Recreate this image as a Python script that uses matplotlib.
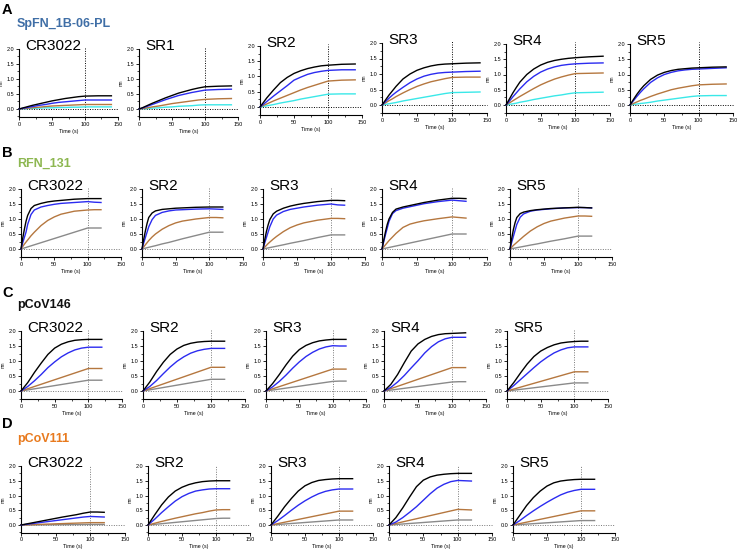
import matplotlib
matplotlib.use("Agg")
import matplotlib.pyplot as plt
from matplotlib.ticker import MultipleLocator

plt.rcParams['font.family'] = ['Liberation Sans', 'DejaVu Sans']

# ---------------- data (nm) ----------------
# Row A time grid (s)
time_A = [0, 5, 10, 15, 20, 30, 40, 50, 60, 70, 80, 90, 100, 120, 140]
A_CR3022 = [
    [0, .03, .06, .09, .12, .17, .22, .27, .31, .35, .38, .41, .43, .44, .44],
    [0, .02, .04, .06, .08, .12, .15, .19, .22, .24, .26, .28, .30, .30, .30],
    [0, .01, .02, .03, .04, .06, .08, .10, .11, .12, .13, .14, .15, .15, .15],
    [0, .01, .01, .02, .02, .03, .04, .04, .05, .05, .06, .06, .07, .07, .07],
]
A_SR1 = [
    [0, .04, .09, .14, .19, .28, .37, .45, .53, .59, .65, .70, .74, .76, .77],
    [0, .03, .07, .11, .15, .23, .31, .38, .45, .50, .55, .59, .63, .65, .66],
    [0, .01, .03, .05, .07, .10, .14, .18, .21, .24, .27, .30, .32, .34, .35],
    [0, .01, .01, .02, .03, .04, .06, .07, .09, .10, .11, .13, .14, .14, .14],
]
A_SR2 = [
    [0, .15, .30, .43, .56, .80, .97, 1.10, 1.19, 1.26, 1.31, 1.35, 1.37, 1.40, 1.41],
    [0, .09, .18, .27, .36, .53, .70, .88, .98, 1.07, 1.13, 1.17, 1.20, 1.22, 1.22],
    [0, .05, .10, .15, .20, .29, .38, .47, .56, .64, .71, .78, .85, .88, .89],
    [0, .02, .04, .06, .08, .13, .17, .21, .26, .30, .34, .38, .42, .43, .43],
]
A_SR3 = [
    [0, .16, .32, .46, .60, .84, 1.00, 1.12, 1.20, 1.26, 1.30, 1.32, 1.33, 1.35, 1.36],
    [0, .11, .22, .32, .41, .57, .72, .84, .93, .99, 1.03, 1.05, 1.06, 1.08, 1.09],
    [0, .07, .14, .20, .27, .39, .50, .60, .68, .75, .80, .85, .89, .90, .90],
    [0, .02, .04, .06, .08, .13, .17, .21, .25, .29, .33, .37, .40, .41, .42],
]
A_SR4 = [
    [0, .20, .40, .58, .75, 1.00, 1.18, 1.31, 1.40, 1.46, 1.50, 1.53, 1.55, 1.58, 1.60],
    [0, .13, .27, .40, .53, .76, .94, 1.08, 1.18, 1.25, 1.30, 1.33, 1.35, 1.37, 1.38],
    [0, .07, .14, .21, .28, .41, .54, .66, .76, .85, .92, .98, 1.03, 1.04, 1.05],
    [0, .02, .04, .06, .09, .13, .18, .22, .26, .30, .33, .37, .40, .41, .42],
]
A_SR5 = [
    [0, .18, .35, .50, .63, .84, .98, 1.07, 1.13, 1.17, 1.19, 1.21, 1.22, 1.24, 1.25],
    [0, .14, .28, .41, .53, .74, .89, 1.00, 1.07, 1.12, 1.15, 1.17, 1.18, 1.20, 1.22],
    [0, .05, .10, .15, .19, .28, .36, .43, .50, .55, .59, .63, .66, .68, .69],
    [0, .02, .03, .05, .06, .09, .13, .16, .19, .22, .25, .28, .30, .31, .31],
]

# Row B time grid (s)
time_B = [0, 2.5, 5, 7.5, 10, 15, 20, 30, 40, 50, 60, 80, 100, 110, 120]
B_CR3022 = [
    [0, .35, .65, .92, 1.12, 1.35, 1.45, 1.52, 1.57, 1.60, 1.62, 1.66, 1.68, 1.68, 1.68],
    [0, .20, .38, .56, .82, 1.15, 1.30, 1.40, 1.45, 1.49, 1.52, 1.55, 1.58, 1.56, 1.55],
    [0, .08, .16, .23, .30, .44, .56, .78, .95, 1.07, 1.16, 1.26, 1.30, 1.31, 1.31],
    [0, .018, .035, .05, .07, .105, .14, .21, .28, .35, .42, .56, .70, .70, .70],
]
B_SR2 = [
    [0, .32, .60, .85, 1.05, 1.20, 1.27, 1.32, 1.34, 1.36, 1.37, 1.39, 1.40, 1.40, 1.40],
    [0, .20, .38, .56, .74, .98, 1.12, 1.22, 1.27, 1.30, 1.31, 1.33, 1.34, 1.33, 1.32],
    [0, .07, .14, .21, .28, .40, .50, .66, .78, .87, .93, 1.00, 1.05, 1.05, 1.04],
    [0, .014, .028, .042, .056, .084, .11, .17, .22, .28, .34, .45, .56, .56, .56],
]
B_SR3 = [
    [0, .30, .58, .80, .98, 1.17, 1.26, 1.36, 1.43, 1.48, 1.52, 1.58, 1.62, 1.62, 1.61],
    [0, .20, .38, .56, .74, 1.00, 1.13, 1.25, 1.32, 1.36, 1.40, 1.46, 1.50, 1.47, 1.46],
    [0, .06, .12, .18, .23, .33, .42, .58, .71, .80, .87, .96, 1.02, 1.02, 1.01],
    [0, .012, .024, .035, .047, .07, .094, .14, .19, .235, .28, .38, .47, .47, .47],
]
B_SR4 = [
    [0, .30, .58, .82, 1.00, 1.22, 1.33, 1.40, 1.45, 1.50, 1.55, 1.63, 1.69, 1.69, 1.68],
    [0, .25, .48, .70, .92, 1.18, 1.28, 1.36, 1.41, 1.46, 1.51, 1.58, 1.63, 1.61, 1.59],
    [0, .07, .14, .21, .28, .40, .52, .72, .83, .89, .94, 1.01, 1.07, 1.05, 1.03],
    [0, .012, .025, .037, .05, .075, .10, .15, .20, .25, .30, .40, .50, .50, .50],
]
B_SR5 = [
    [0, .35, .65, .88, 1.05, 1.18, 1.23, 1.28, 1.31, 1.33, 1.35, 1.37, 1.39, 1.38, 1.37],
    [0, .22, .42, .62, .82, 1.06, 1.17, 1.26, 1.30, 1.32, 1.34, 1.37, 1.38, 1.38, 1.37],
    [0, .06, .12, .17, .22, .32, .42, .60, .74, .85, .93, 1.03, 1.10, 1.10, 1.09],
    [0, .011, .022, .032, .043, .065, .086, .13, .17, .215, .26, .34, .43, .43, .43],
]

# Rows C and D time grid (s)
time_CD = [0, 10, 20, 30, 40, 50, 60, 70, 80, 90, 100, 110, 120]
C_CR3022 = [
    [0, .28, .62, .93, 1.22, 1.43, 1.56, 1.64, 1.69, 1.71, 1.72, 1.72, 1.72],
    [0, .15, .34, .55, .78, .97, 1.14, 1.27, 1.37, 1.43, 1.46, 1.46, 1.46],
    [0, .075, .15, .225, .30, .375, .45, .525, .60, .675, .75, .75, .75],
    [0, .036, .072, .108, .144, .18, .216, .252, .288, .324, .36, .36, .36],
]
C_SR2 = [
    [0, .30, .65, .96, 1.22, 1.40, 1.52, 1.59, 1.63, 1.65, 1.66, 1.66, 1.66],
    [0, .15, .35, .58, .80, .99, 1.14, 1.26, 1.34, 1.39, 1.42, 1.42, 1.42],
    [0, .079, .158, .237, .316, .395, .474, .553, .632, .711, .79, .79, .79],
    [0, .039, .078, .117, .156, .195, .234, .273, .312, .351, .39, .39, .39],
]
C_SR3 = [
    [0, .25, .55, .87, 1.16, 1.38, 1.52, 1.61, 1.67, 1.70, 1.72, 1.72, 1.72],
    [0, .14, .32, .53, .76, .97, 1.15, 1.29, 1.40, 1.47, 1.51, 1.50, 1.50],
    [0, .073, .146, .219, .292, .365, .438, .511, .584, .657, .73, .73, .73],
    [0, .032, .064, .096, .128, .16, .192, .224, .256, .288, .32, .33, .33],
]
C_SR4 = [
    [0, .22, .55, .95, 1.33, 1.57, 1.72, 1.82, 1.88, 1.91, 1.92, 1.93, 1.94],
    [0, .12, .30, .52, .77, 1.01, 1.27, 1.48, 1.64, 1.74, 1.79, 1.79, 1.79],
    [0, .078, .156, .234, .312, .39, .468, .546, .624, .702, .78, .78, .78],
    [0, .03, .06, .09, .12, .15, .18, .21, .24, .27, .30, .31, .31],
]
C_SR5 = [
    [0, .28, .60, .90, 1.15, 1.33, 1.45, 1.54, 1.60, 1.63, 1.65, 1.66, 1.66],
    [0, .18, .38, .58, .78, .97, 1.13, 1.27, 1.37, 1.44, 1.47, 1.47, 1.47],
    [0, .064, .128, .192, .256, .32, .384, .448, .512, .576, .64, .64, .64],
    [0, .027, .054, .081, .108, .135, .162, .189, .216, .243, .27, .27, .27],
]
D_CR3022 = [
    [0, .045, .09, .135, .18, .225, .27, .31, .35, .40, .44, .44, .43],
    [0, .03, .06, .09, .12, .15, .18, .21, .24, .27, .29, .28, .27],
    [0, .008, .016, .024, .032, .04, .048, .056, .064, .072, .08, .08, .08],
    [0, .002, .004, .006, .008, .01, .012, .014, .016, .018, .02, .02, .02],
]
D_SR2 = [
    [0, .35, .68, .95, 1.15, 1.28, 1.37, 1.43, 1.47, 1.49, 1.50, 1.50, 1.50],
    [0, .20, .42, .62, .81, .96, 1.07, 1.15, 1.19, 1.22, 1.23, 1.23, 1.23],
    [0, .06, .12, .175, .23, .28, .33, .38, .42, .47, .51, .52, .52],
    [0, .022, .044, .066, .088, .11, .132, .154, .176, .198, .22, .23, .23],
]
D_SR3 = [
    [0, .30, .62, .90, 1.15, 1.33, 1.44, 1.51, 1.54, 1.56, 1.57, 1.57, 1.57],
    [0, .15, .32, .50, .67, .82, .95, 1.06, 1.14, 1.19, 1.22, 1.22, 1.22],
    [0, .047, .094, .141, .188, .235, .282, .329, .376, .423, .47, .47, .47],
    [0, .017, .034, .051, .068, .085, .102, .119, .136, .153, .17, .17, .17],
]
D_SR4 = [
    [0, .25, .58, .95, 1.30, 1.52, 1.63, 1.69, 1.72, 1.74, 1.75, 1.75, 1.75],
    [0, .10, .25, .43, .62, .84, 1.06, 1.25, 1.38, 1.47, 1.51, 1.50, 1.49],
    [0, .053, .106, .159, .212, .265, .318, .371, .424, .477, .53, .52, .51],
    [0, .017, .034, .051, .068, .085, .102, .119, .136, .153, .17, .17, .17],
]
D_SR5 = [
    [0, .33, .66, .93, 1.15, 1.32, 1.43, 1.49, 1.52, 1.54, 1.55, 1.55, 1.55],
    [0, .15, .32, .48, .63, .77, .90, 1.02, 1.11, 1.17, 1.21, 1.21, 1.21],
    [0, .048, .096, .144, .192, .24, .288, .336, .384, .432, .48, .48, .48],
    [0, .015, .03, .045, .06, .075, .09, .105, .12, .135, .15, .15, .15],
]

titles_A = ["CR3022", "SR1", "SR2", "SR3", "SR4", "SR5"]
titles_BCD = ["CR3022", "SR2", "SR3", "SR4", "SR5"]
row_labels = ["A", "B", "C", "D"]
row_names = ["SpFN_1B-06-PL", "RFN_131", "pCoV146", "pCoV111"]
row_name_colors = ["#3f6ea6", "#8db751", "#111111", "#e87a1e"]
colors_A = ["#000000", "#2b2bf0", "#b5773f", "#3ae8e8"]
colors_BCD = ["#000000", "#2b2bf0", "#b5773f", "#8a8a8a"]

# ---------------- layout (pixels) ----------------
W, H = 740, 552
fig = plt.figure(figsize=(W / 100, H / 100), dpi=100)

# (x px of t=0, x px of t=150, y px of 2.0, y px of 0.0)
geom_A = [(19, 118, 49, 109), (139, 238, 49, 109), (260, 362, 46, 107),
          (382, 487, 43, 105), (506, 610, 44, 105), (630, 733, 44, 105)]
geom_B = [(21, 121, 189, 249), (142, 243, 189, 249), (263, 365, 189, 249),
          (382, 487, 189, 249), (510, 612, 189, 249)]
geom_C = [(21, 122, 331, 391), (143, 245, 331, 391), (266, 366, 331, 391),
          (384, 486, 331, 391), (507, 608, 331, 391)]
geom_D = [(21, 125, 466, 525), (148, 250, 466, 525), (271, 373, 466, 525),
          (389, 492, 466, 525), (513, 615, 466, 525)]

YBOT = -0.27


def make_panel(g, time, series, colors, title, guide_color):
    x0, x150, y2, y0 = g
    ppu = (y0 - y2) / 2.0
    bottom_px = y0 - YBOT * ppu
    ax = fig.add_axes([x0 / W, 1 - bottom_px / H, (x150 - x0) / W, (bottom_px - y2) / H])
    ax.set_xlim(0, 150)
    ax.set_ylim(YBOT, 2.0)
    for s in ("top", "right"):
        ax.spines[s].set_visible(False)
    for s in ("left", "bottom"):
        ax.spines[s].set_linewidth(0.8)
    ax.xaxis.set_major_locator(MultipleLocator(50))
    ax.xaxis.set_minor_locator(MultipleLocator(25))
    ax.yaxis.set_minor_locator(MultipleLocator(0.25))
    ax.set_yticks([0, 0.5, 1.0, 1.5, 2.0])
    ax.set_yticklabels(["0.0", "0.5", "1.0", "1.5", "2.0"])
    ax.tick_params(which="major", length=2.2, width=0.6, labelsize=4, pad=1)
    ax.tick_params(which="minor", length=1.3, width=0.5)
    ax.set_xlabel("Time (s)", fontsize=3.8, labelpad=1.5)
    ax.set_ylabel("nm", fontsize=3.3, labelpad=2)
    ax.patch.set_alpha(0)
    # guide lines
    ax.plot([0, 150], [0, 0], ls=(0, (1, 1.5)), color=guide_color, lw=0.7, clip_on=False, zorder=1)
    ax.plot([100, 100], [YBOT, 2.05], ls=(0, (1, 1.5)), color=guide_color, lw=0.7, clip_on=False, zorder=1)
    for vals, c in zip(reversed(series), reversed(colors)):
        ax.plot(time, vals, color=c, lw=1.0, clip_on=False, zorder=3, solid_joinstyle="round")
    ax.text(9, 1.97, title, fontsize=11, ha="left", va="baseline")
    return ax


panels_A = [A_CR3022, A_SR1, A_SR2, A_SR3, A_SR4, A_SR5]
panels_B = [B_CR3022, B_SR2, B_SR3, B_SR4, B_SR5]
panels_C = [C_CR3022, C_SR2, C_SR3, C_SR4, C_SR5]
panels_D = [D_CR3022, D_SR2, D_SR3, D_SR4, D_SR5]

for g, s, t in zip(geom_A, panels_A, titles_A):
    make_panel(g, time_A, s, colors_A, t, "#000000")
for g, s, t in zip(geom_B, panels_B, titles_BCD):
    make_panel(g, time_B, s, colors_BCD, t, "#777777")
for g, s, t in zip(geom_C, panels_C, titles_BCD):
    make_panel(g, time_CD, s, colors_BCD, t, "#777777")
for g, s, t in zip(geom_D, panels_D, titles_BCD):
    make_panel(g, time_CD, s, colors_BCD, t, "#777777")

# row labels (pixel positions)
letter_pos = [(2, 14), (2, 157), (2, 297), (2, 428)]
name_pos = [(17, 27), (17, 167), (17, 308), (17, 442)]
for lab, (lx, ly), name, (nx, ny), nc in zip(row_labels, letter_pos, row_names, name_pos, row_name_colors):
    fig.text(lx / W, 1 - ly / H, lab, fontsize=10.5, fontweight="bold", ha="left", va="baseline")
    fig.text(nx / W, 1 - ny / H, name, fontsize=9, fontweight="bold", color=nc, ha="left", va="baseline")

fig.savefig("out.png", dpi=100)
